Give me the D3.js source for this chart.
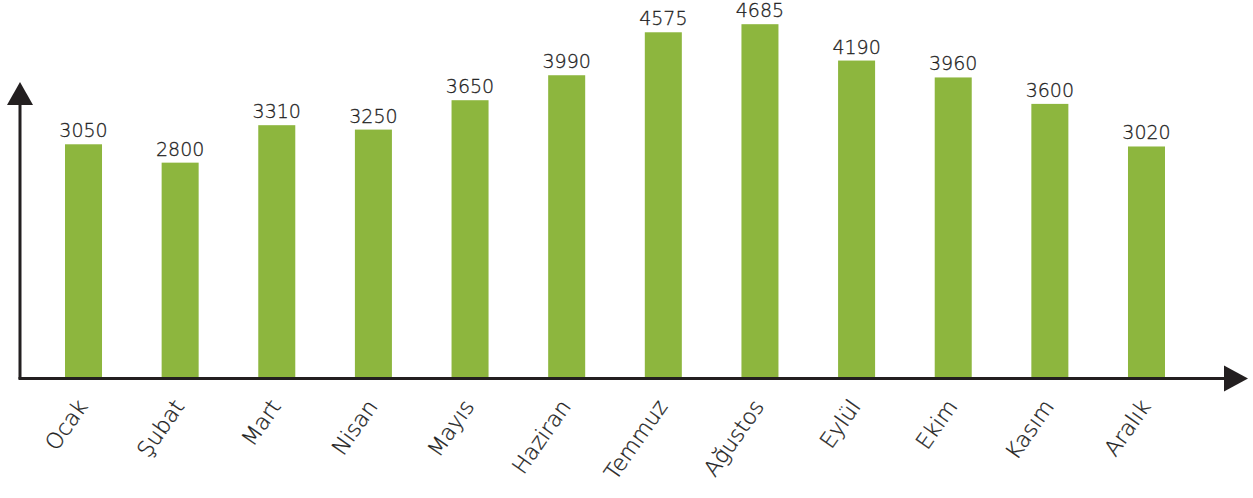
<!DOCTYPE html>
<html><head><meta charset="utf-8">
<script src="https://cdn.jsdelivr.net/npm/d3@7"></script>
<style>body{margin:0;background:#fff;}svg{display:block;}</style>
</head><body>
<script>
const months = ["Ocak","Şubat","Mart","Nisan","Mayıs","Haziran","Temmuz","Ağustos","Eylül","Ekim","Kasım","Aralık"];
const values = [3050,2800,3310,3250,3650,3990,4575,4685,4190,3960,3600,3020];

const W = 1253, H = 498;
const svg = d3.select("body").append("svg").attr("width", W).attr("height", H);
const baseY = 377.5;
const x = d3.scaleBand().domain(months).range([65, 1165]).paddingInner(0.617).paddingOuter(0);
const y = d3.scaleLinear().domain([0, 4685]).range([368.3, 24.2]);
const font = "'DejaVu Sans', sans-serif";

svg.selectAll("rect.bar").data(values).join("rect")
  .attr("class","bar")
  .attr("x", (d,i) => x(months[i]))
  .attr("width", x.bandwidth())
  .attr("y", d => y(d))
  .attr("height", d => baseY - y(d))
  .attr("fill", "#8db63e");

svg.selectAll("text.val").data(values).join("text")
  .attr("class","val")
  .attr("x", (d,i) => x(months[i]) + x.bandwidth()/2)
  .attr("y", d => y(d) - 7)
  .attr("text-anchor","middle")
  .attr("font-family", font)
  .attr("font-weight", 200)
  .attr("font-size", 19)
  .attr("fill", "#1e1e1e")
  .attr("stroke", "#1e1e1e")
  .attr("stroke-width", 0.3)
  .text(d => d);

// axes
const axisColor = "#231f20";
svg.append("line").attr("x1",20).attr("x2",20).attr("y1",baseY+1.5).attr("y2",104)
  .attr("stroke",axisColor).attr("stroke-width",3);
svg.append("path").attr("d","M7,105 L20,82 L33,105 Z").attr("fill",axisColor);
svg.append("line").attr("x1",18.5).attr("x2",1226).attr("y1",baseY+1).attr("y2",baseY+1)
  .attr("stroke",axisColor).attr("stroke-width",3);
svg.append("path").attr("d",`M1224,${baseY+1-13} L1248,${baseY+1} L1224,${baseY+1+13} Z`).attr("fill",axisColor);

svg.selectAll("text.mon").data(months).join("text")
  .attr("class","mon")
  .attr("transform", d => `translate(${x(d) + x.bandwidth()/2 + 5},${baseY + 29}) rotate(-55)`)
  .attr("text-anchor","end")
  .attr("font-family", font)
  .attr("font-weight", 200)
  .attr("font-size", 22)
  .attr("fill", "#1e1e1e")
  .attr("stroke", "#1e1e1e")
  .attr("stroke-width", 0.3)
  .text(d => d);
</script>
</body></html>
